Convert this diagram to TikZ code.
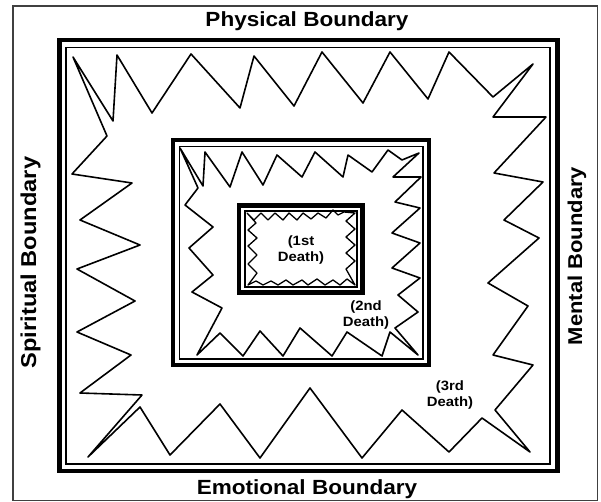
\documentclass[tikz,border=0pt]{standalone}
\usepackage{fontspec}
\newfontfamily\bndfont{Liberation Sans}[FakeStretch=1.1]
\usepackage{tikz}

\begin{document}
\begin{tikzpicture}[x=1pt, y=-1pt,
          frm/.style={draw, line width=4.8pt},
          inr/.style={draw, line width=1.2pt},
          zig/.style={draw, line width=1.6pt, line join=round},
          bnd/.style={font=\bndfont\bfseries\fontsize{#1}{24}\selectfont},
          bnd/.default=20.5,
          dth/.style={font=\bndfont\bfseries\fontsize{13.5}{16}\selectfont, align=center},
        ]
        \useasboundingbox (0,0) rectangle (601,502);
        \draw[black!75, line width=1.2pt] (13,6) rectangle (597.5,500.5);
        % boundaries
        \node[bnd] (phys) at (307,21) {Physical Boundary};
        \node[bnd] (emot) at (307,489) {Emotional Boundary};
        \node[bnd=21.5, rotate=90] (spir) at (30.5,262.5) {Spiritual Boundary};
        \node[bnd=20, rotate=90] (ment) at (577,256) {Mental Boundary};
        % third level
        \draw[frm] (59.5,40) rectangle (557.5,471);
        \draw[inr] (66,47.5) rectangle (550,464);
        \draw[zig] (73,57) -- (113,121) -- (117,55) -- (152,113) -- (191,54) -- (240,108) -- (254,56) -- (294,106)
          -- (322,52) -- (363,103) -- (390,52) -- (428,99) -- (449,52) -- (493,97) -- (533,64) -- (493,117)
          -- (546,117) -- (494,173) -- (543,182) -- (504,220) -- (539,238) -- (488,283) -- (528,306) -- (493,355)
          -- (533,365) -- (495,410) -- (530,452) -- (482,418) -- (449,452) -- (402,410) -- (362,458) -- (310,388)
          -- (260,458) -- (220,404) -- (170,455) -- (140,407) -- (88,457) -- (142,395) -- (80,393) -- (131,355)
          -- (77,332) -- (135,301) -- (77,269) -- (140,245) -- (80,220) -- (132,183) -- (72,174) -- (107,136) -- cycle;
        % second level
        \draw[frm] (173,140) rectangle (429,365);
        \draw[inr] (179.5,146.5) rectangle (423,359);
        \draw[zig] (180,148) -- (203,186) -- (205,152) -- (230,187) -- (242,152) -- (263,185) -- (277,155) -- (302,177)
          -- (315,152) -- (343,177) -- (348,155) -- (372,172) -- (388,150) -- (402,160) -- (419,153) -- (393,177)
          -- (421,177) -- (395,202) -- (420,208) -- (392,233) -- (420,243) -- (392,268) -- (420,278) -- (398,295)
          -- (418,312) -- (395,328) -- (418,355) -- (390,332) -- (382,356) -- (347,332) -- (332,356) -- (300,328)
          -- (283,356) -- (260,331) -- (243,356) -- (220,333) -- (197,355) -- (222,308) -- (192,292) -- (213,275)
          -- (189,248) -- (213,227) -- (185,205) -- (198,188) -- cycle;
        % first level
        \draw[frm] (239,205.5) rectangle (362.5,292.5);
        \draw[inr] (245,211) rectangle (357,287);
        \draw[zig, line width=1.3pt] (247,213) -- (254,220) -- (261,213) -- (268,220) -- (275,213) -- (283,220) -- (289,213)
          -- (297,220) -- (303,213) -- (311,219) -- (318,213) -- (326,218) -- (333,210) -- (338,215) -- (344,212)
          -- (355,213) -- (346,221) -- (355,229) -- (346,237) -- (355,245) -- (346,253) -- (355,261) -- (346,269)
          -- (355,285) -- (347,279) -- (340,285) -- (333,280) -- (325,285) -- (317,279) -- (308,285) -- (302,280)
          -- (293,285) -- (286,280) -- (278,285) -- (271,281) -- (263,285) -- (256,281) -- (248,285) -- (257,273)
          -- (248,264) -- (257,255) -- (248,246) -- (257,238) -- (248,230) -- (256,223) -- cycle;
        % deaths
        \node[dth] (d1) at (301,250) {(1st\\Death)};
        \node[dth] (d2) at (366,315) {(2nd\\Death)};
        \node[dth] (d3) at (450,395) {(3rd\\Death)};
        \end{tikzpicture}
\end{document}
